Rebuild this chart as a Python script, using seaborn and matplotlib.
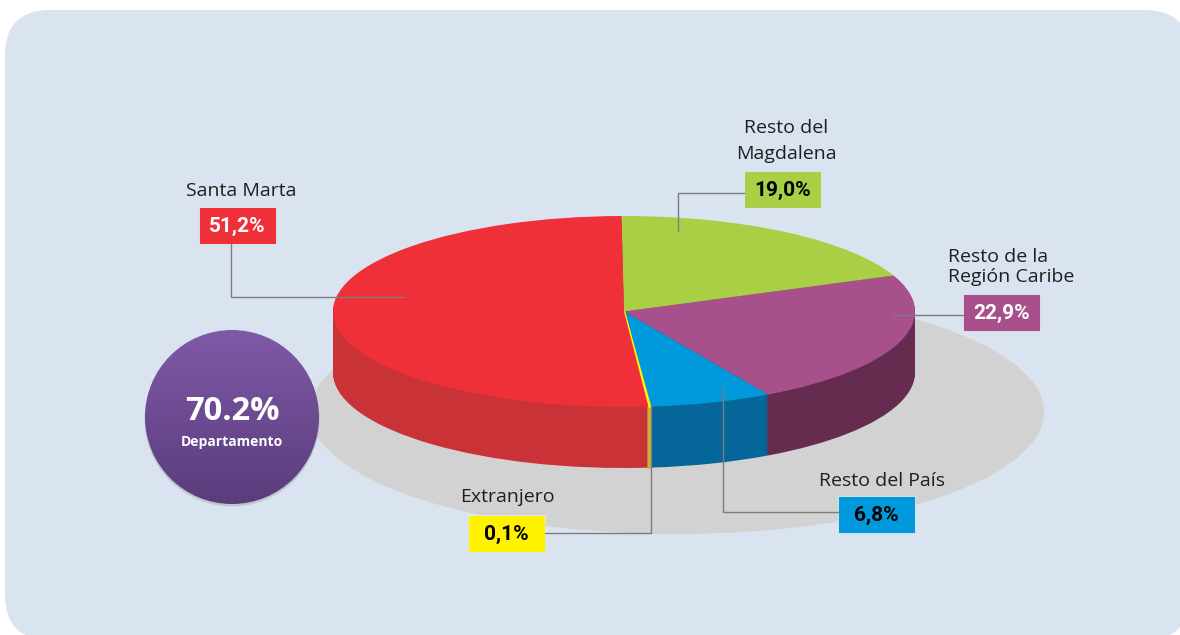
import numpy as np
import matplotlib
matplotlib.use('Agg')
import matplotlib.pyplot as plt
from matplotlib.colors import LinearSegmentedColormap
from matplotlib.patches import Circle, Ellipse, FancyBboxPatch, Rectangle
import seaborn as sns

# slices, clockwise from the top
categories = ['Resto del\nMagdalena', 'Resto de la\nRegión Caribe', 'Resto del País', 'Extranjero', 'Santa Marta']
values = [19.0, 22.9, 6.8, 0.1, 51.2]
value_labels = ['19,0%', '22,9%', '6,8%', '0,1%', '51,2%']
top_colors = ['#a9d045', '#a8508c', '#0099dc', '#fff200', '#ef3038']
side_colors = ['#7f9c34', '#662c50', '#056699', '#c9b83a', '#c93236']
value_text_colors = ['black', 'white', 'black', 'black', 'white']

total_label = '70.2%'
total_caption = 'Departamento'

W, H = 1180, 635
# layout in reference pixels
cx, cy, rx, ry = 624, 311.5, 291, 95.5
depth = 61
name_xy = [(786, 141), (1011, 267), (882, 481), (507, 497), (241, 191)]
name_spacing = [1.55, 1.18, 1.0, 1.0, 1.0]
name_align = ['center', 'left', 'center', 'center', 'center']
box_xy = [(744, 171), (963, 294), (838, 496), (468, 515), (199, 207)]
box_w, box_h = 77, 37
leaders = [[(678, 231), (678, 193), (744, 193)],
           [(893, 315), (963, 315)],
           [(723, 387), (723, 512), (838, 512)],
           [(651, 405), (651, 533), (545, 533)],
           [(231, 244), (231, 297), (405, 297)]]

sns.set_theme(style='white')
plt.rcParams['font.family'] = ['Open Sans', 'DejaVu Sans']

fig = plt.figure(figsize=(W / 100, H / 100), dpi=100, facecolor='white')

# background panel and shadow, in pixel coordinates
ax_bg = fig.add_axes([0, 0, 1, 1], zorder=0)
ax_bg.set_xlim(0, W)
ax_bg.set_ylim(H, 0)
ax_bg.axis('off')
ax_bg.add_patch(FancyBboxPatch((50, 55), 1095, 540, boxstyle='round,pad=45,rounding_size=45',
                               fc='#dae4f0', ec='none'))
ax_bg.add_patch(Ellipse((677, 412), 734, 244, fc='#d2d2d2', ec='none'))

# the pie: one axes stretched over the top ellipse, stacked layers give the depth
ax_pie = fig.add_axes([(cx - rx) / W, 1 - (cy + ry) / H, 2 * rx / W, 2 * ry / H], zorder=1)
for k in range(depth, 0, -1):
    side, _ = ax_pie.pie(values, colors=side_colors, startangle=90.5, counterclock=False,
                         center=(0, -k / ry), radius=1, wedgeprops={'lw': 0})
    side[3].set_edgecolor(side_colors[3])
    side[3].set_linewidth(1.6)
wedges, _ = ax_pie.pie(values, colors=top_colors, startangle=90.5, counterclock=False,
                       center=(0, 0), radius=1, wedgeprops={'lw': 0})
wedges[3].set_edgecolor(top_colors[3])
wedges[3].set_linewidth(1.4)
ax_pie.set_aspect('auto')
ax_pie.set_xlim(-1, 1)
ax_pie.set_ylim(-1, 1)
ax_pie.axis('off')

# callouts and badge on top
ax = fig.add_axes([0, 0, 1, 1], zorder=2)
ax.set_xlim(0, W)
ax.set_ylim(H, 0)
ax.axis('off')
ax.patch.set_alpha(0)

for pts in leaders:
    xs, ys = zip(*pts)
    ax.plot(xs, ys, color='#7c7c7c', lw=1.0, solid_joinstyle='miter')

for i, (name, label) in enumerate(zip(categories, value_labels)):
    ax.text(name_xy[i][0], name_xy[i][1], name, ha='center', va='center', fontsize=14, color='#1f1f1f',
            linespacing=name_spacing[i], multialignment=name_align[i])
    ax.add_patch(Rectangle(box_xy[i], box_w, box_h, fc=top_colors[i], ec='#e4e9f0', lw=0.6))
    ax.text(box_xy[i][0] + box_w / 2, box_xy[i][1] + box_h / 2 + 1, label, ha='center', va='center',
            fontsize=15, fontweight='bold', color=value_text_colors[i], family=['Roboto', 'DejaVu Sans'])

# purple badge
bx, by, br = 232, 417, 87
ax.add_patch(Circle((bx, by + 2), br + 0.5, fc='#8f9096', ec='none', alpha=0.35))
cmap = LinearSegmentedColormap.from_list('badge', ['#7f5aa8', '#5a3c7c'])
img = ax.imshow(np.linspace(0, 1, 256).reshape(-1, 1), cmap=cmap, aspect='auto',
                extent=(bx - br, bx + br, by + br, by - br), zorder=3)
img.set_clip_path(Circle((bx, by), br, transform=ax.transData))
ax.set_xlim(0, W)
ax.set_ylim(H, 0)
ax.text(bx, by - 6, total_label, ha='center', va='center', fontsize=23.5, fontweight='bold', color='white', zorder=4)
ax.text(bx, by + 25, total_caption, ha='center', va='center', fontsize=10, fontweight='bold', color='white', zorder=4)

fig.savefig('out.png', dpi=100)
